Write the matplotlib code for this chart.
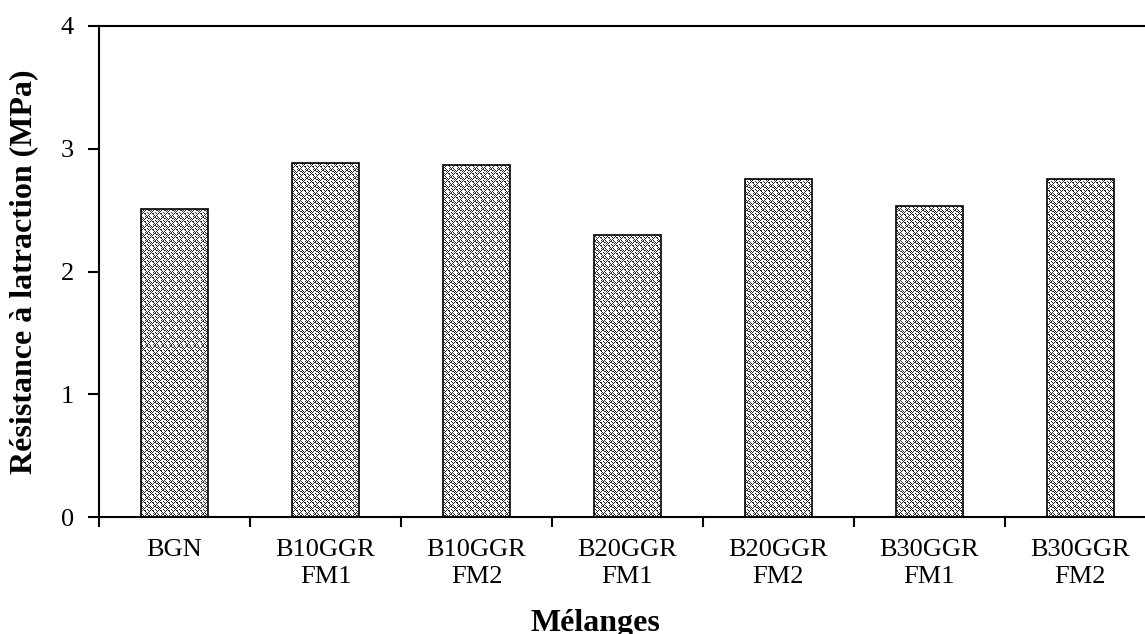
import matplotlib.pyplot as plt
import numpy as np

# --- DATA ---
categories = ['BGN', 'B10GGR\nFM1', 'B10GGR\nFM2', 'B20GGR\nFM1',
              'B20GGR\nFM2', 'B30GGR\nFM1', 'B30GGR\nFM2']
resistance = [2.51, 2.88, 2.87, 2.30, 2.75, 2.53, 2.75]
y_ticks = [0, 1, 2, 3, 4]

plt.rcParams['font.family'] = ['Liberation Serif', 'DejaVu Serif']

fig = plt.figure(figsize=(11.45, 6.34), dpi=100)
# the right side of the original plot area is cut off by the image edge
ax = fig.add_axes([0.0865, 0.1845, 0.923, 0.7745])

x = np.arange(len(categories))
bars = ax.bar(x, resistance, width=0.44, facecolor='none', edgecolor='black',
              linewidth=1.2, zorder=3)

# --- TEXTURE FILL (Excel-like weave pattern) ---
tile = ["X..X...X",
        ".XX.X.X.",
        "...X.X..",
        "X...X...",
        ".X.X.XX.",
        "..X...X.",
        ".X.....X",
        "X.X...X."]
tile = np.array([[0.15 if c == 'X' else 1.0 for c in row] for row in tile])
tex = np.tile(tile, (70, 140))[:491, :1057]
ext = (-0.5, len(categories) - 0.5, 0, 4)
for b in bars:
    im = ax.imshow(tex, cmap='gray', vmin=0, vmax=1, interpolation='nearest',
                   extent=ext, aspect='auto', zorder=2)
    im.set_clip_path(b)
ax.set_xlim(-0.5, len(categories) - 0.5)
ax.set_ylim(0, 4)

# --- AXES STYLE ---
ax.spines['right'].set_visible(False)
for s in ['left', 'bottom', 'top']:
    ax.spines[s].set_linewidth(1.5)

ax.set_yticks(y_ticks)
ax.set_xticks(x)
ax.set_xticklabels(categories, fontsize=19, linespacing=1.3)
ax.set_xticks(np.arange(len(categories)) - 0.5, minor=True)
ax.tick_params(axis='x', which='major', length=0, pad=16)
ax.tick_params(axis='x', which='minor', length=7, width=1.5, direction='out')
ax.tick_params(axis='y', labelsize=19, length=8, width=1.5, pad=10)

ax.set_ylabel('Résistance à latraction (MPa)', fontsize=23, fontweight='bold')
ax.yaxis.set_label_coords(-0.058, 0.5)
ax.set_xlabel('Mélanges', fontsize=23, fontweight='bold')
ax.xaxis.set_label_coords(0.47, -0.188)

plt.savefig('out.png', dpi=100)
